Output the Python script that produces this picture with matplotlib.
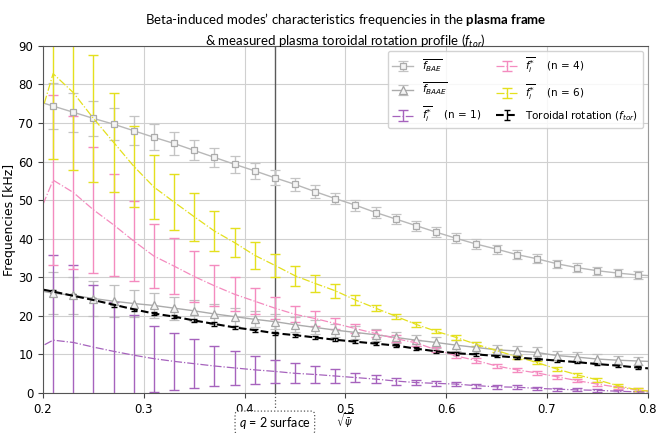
import matplotlib
matplotlib.use("Agg")
import matplotlib.pyplot as plt
from matplotlib.transforms import blended_transform_factory

# Radial coordinate sqrt(psi_bar) of each sample
sqrt_psi = [0.19, 0.21, 0.23, 0.25, 0.27, 0.29, 0.31, 0.33, 0.35, 0.37, 0.39,
            0.41, 0.43, 0.45, 0.47, 0.49, 0.51, 0.53, 0.55, 0.57, 0.59, 0.61,
            0.63, 0.65, 0.67, 0.69, 0.71, 0.73, 0.75, 0.77, 0.79, 0.81]

# BAE frequency [kHz]
f_bae = [76.0, 74.4, 72.8, 71.2, 69.7, 68.0, 66.3, 64.7, 62.9, 61.1, 59.3,
         57.6, 55.8, 54.1, 52.2, 50.4, 48.7, 46.8, 45.1, 43.4, 41.7, 40.1,
         38.6, 37.3, 35.9, 34.8, 33.5, 32.5, 31.7, 31.1, 30.6, 30.3]
f_bae_err = [6.3, 5.9, 5.1, 4.6, 4.1, 3.7, 3.4, 2.9, 2.6, 2.4, 2.2,
             2.1, 1.95, 1.75, 1.65, 1.5, 1.45, 1.4, 1.35, 1.3, 1.3, 1.3,
             1.25, 1.2, 1.2, 1.15, 1.1, 1.1, 1.05, 1.0, 0.95, 0.9]

# BAAE frequency [kHz]
f_baae = [26.8, 25.9, 25.3, 24.5, 23.8, 23.2, 22.7, 22.0, 21.3, 20.5, 19.8,
          19.1, 18.5, 17.7, 17.0, 16.3, 15.7, 15.1, 14.4, 13.7, 13.1, 12.4,
          11.8, 11.2, 10.9, 10.5, 9.7, 9.3, 8.8, 8.5, 8.3, 8.1]
f_baae_err = [6.0, 5.5, 4.9, 4.5, 4.2, 3.6, 3.3, 3.0, 2.7, 2.5, 2.3,
              2.1, 2.0, 1.9, 1.8, 1.7, 1.6, 1.55, 1.5, 1.45, 1.4, 1.4,
              1.35, 1.35, 1.3, 1.3, 1.25, 1.2, 1.2, 1.15, 1.1, 1.1]

# Ion diamagnetic-type frequency f_i* for n = 1, 4, 6 [kHz]
f_i_n1 = [10.9, 13.7, 13.1, 11.9, 10.8, 9.8, 8.9, 8.2, 7.6, 7.0, 6.5,
          6.0, 5.6, 5.1, 4.8, 4.4, 4.0, 3.6, 3.1, 2.7, 2.5, 2.3,
          1.9, 1.6, 1.5, 1.2, 1.0, 0.8, 0.7, 0.45, 0.3, 0.2]
f_i_n1_err = [24.0, 22.2, 20.1, 16.2, 12.8, 10.5, 8.6, 7.3, 6.3, 5.3, 4.35,
              3.6, 3.0, 2.55, 2.3, 1.7, 1.2, 1.1, 0.9, 0.7, 0.6, 0.55,
              0.5, 0.5, 0.45, 0.45, 0.4, 0.4, 0.4, 0.35, 0.3, 0.3]

f_i_n4 = [42.6, 55.2, 52.0, 47.5, 43.6, 39.4, 35.5, 32.9, 30.2, 27.8, 25.6,
          23.8, 22.0, 20.4, 19.3, 18.0, 16.7, 15.4, 14.1, 13.0, 11.2, 9.6,
          8.4, 7.0, 6.0, 5.2, 4.2, 3.2, 2.3, 1.5, 0.8, 0.3]
f_i_n4_err = [24.0, 22.0, 19.9, 16.4, 13.2, 10.4, 8.4, 7.3, 6.5, 5.3, 4.35,
              3.4, 2.8, 2.1, 1.9, 1.4, 1.1, 1.0, 0.9, 0.8, 0.7, 0.65,
              0.6, 0.55, 0.5, 0.5, 0.5, 0.45, 0.45, 0.4, 0.4, 0.4]

f_i_n6 = [65.2, 82.8, 77.9, 71.2, 65.0, 58.8, 53.4, 49.5, 45.7, 42.0, 39.0,
          35.7, 33.1, 30.4, 28.4, 26.5, 24.1, 22.0, 19.9, 17.8, 16.0, 14.4,
          12.6, 11.0, 9.4, 7.9, 6.2, 4.7, 3.4, 1.9, 0.8, 0.2]
f_i_n6_err = [24.0, 22.2, 20.1, 16.4, 12.9, 10.5, 8.4, 7.2, 6.2, 5.2, 3.8,
              3.5, 3.0, 2.6, 2.2, 1.8, 1.35, 0.85, 0.7, 0.6, 0.55, 0.55,
              0.5, 0.5, 0.5, 0.5, 0.5, 0.45, 0.45, 0.4, 0.4, 0.4]

# Measured toroidal rotation frequency f_tor [kHz]
f_tor = [27.3, 26.3, 25.2, 24.1, 22.9, 21.7, 20.6, 19.8, 18.8, 17.9, 17.0,
         16.3, 15.5, 15.0, 14.4, 13.8, 13.3, 12.8, 12.3, 11.5, 10.8, 10.3,
         10.0, 9.6, 9.2, 8.8, 8.4, 8.0, 7.5, 7.1, 6.6, 6.2]
f_tor_err = [0.5, 0.5, 0.5, 0.5, 0.5, 0.5, 0.5, 0.45, 0.45, 0.45, 0.45,
             0.4, 0.4, 0.4, 0.4, 0.4, 0.4, 0.35, 0.35, 0.35, 0.35, 0.35,
             0.3, 0.3, 0.3, 0.3, 0.3, 0.3, 0.3, 0.3, 0.3, 0.3]

q2_position = 0.43

x_ticks = [0.2, 0.3, 0.4, 0.5, 0.6, 0.7, 0.8]
y_ticks = [0, 10, 20, 30, 40, 50, 60, 70, 80, 90]

title_line1 = ("Beta-induced modes\u2019 characteristics frequencies in the "
               r"$\mathbf{plasma\ frame}$")
title_line2 = r"& measured plasma toroidal rotation profile ($f_{tor}$)"

plt.rcParams["font.family"] = "DejaVu Sans"
plt.rcParams["mathtext.rm"] = "Lato"
plt.rcParams["mathtext.it"] = "Lato:italic"
plt.rcParams["mathtext.bf"] = "Lato:bold"

fig = plt.figure(figsize=(6.57, 4.33), dpi=100)
ax = fig.add_axes([0.0655, 0.0924, 0.9205, 0.8016])

ax.errorbar(sqrt_psi, f_bae, yerr=f_bae_err, fmt="-", marker="s", ms=4.8,
            lw=1.0, elinewidth=1.0, capsize=3.5, mew=0.9,
            color="#b8b8b8", ecolor="#c4c4c4", mfc="#f4f4f4", mec="#ababab",
            label=r"$\overline{f_{BAE}}$")
ax.errorbar(sqrt_psi, f_baae, yerr=f_baae_err, fmt="-", marker="^", ms=5.3,
            lw=1.0, elinewidth=1.0, capsize=3.5, mew=0.9,
            color="#ababab", ecolor="#c0c0c0", mfc="#f4f4f4", mec="#a4a4a4",
            label=r"$\overline{f_{BAAE}}$")
ax.errorbar(sqrt_psi, f_i_n1, yerr=f_i_n1_err, fmt="-.", lw=0.9,
            color="#a663bd", elinewidth=1.0, capsize=3.5,
            label=r"$\overline{f_i^{*}}$    (n = 1)")
ax.errorbar(sqrt_psi, f_i_n4, yerr=f_i_n4_err, fmt="-.", lw=0.9,
            color="#f48bbf", elinewidth=1.0, capsize=3.5,
            label=r"$\overline{f_i^{*}}$    (n = 4)")
ax.errorbar(sqrt_psi, f_i_n6, yerr=f_i_n6_err, fmt="-.", lw=0.9,
            color="#e4e01e", elinewidth=1.0, capsize=3.5,
            label=r"$\overline{f_i^{*}}$    (n = 6)")
ax.errorbar(sqrt_psi, f_tor, yerr=f_tor_err, fmt="--", lw=1.5,
            color="black", elinewidth=1.0, capsize=2,
            label=r"Toroidal rotation ($f_{tor}$)")

# q = 2 rational surface
ax.axvline(q2_position, color="#5a5a5a", lw=1.0, zorder=1)
trans = blended_transform_factory(ax.transData, ax.transAxes)
ax.plot([q2_position, q2_position], [0.0, -0.045], transform=trans,
        color="#555555", lw=0.9, ls=":", clip_on=False)
ax.text(q2_position, -0.086, r"$q$ = 2 surface", transform=trans,
        ha="center", va="center", fontsize=9, family="Lato",
        math_fontfamily="custom",
        bbox=dict(boxstyle="round,pad=0.3", fc="white", ec="#555555",
                  ls=":", lw=0.9))

ax.set_xlim(0.2, 0.8)
ax.set_ylim(0, 90)
ax.set_xticks(x_ticks)
ax.set_yticks(y_ticks)
ax.tick_params(labelsize=8.5, length=3.5, width=0.8, color="#444444")
ax.grid(True, color="#d0d0d0", lw=0.8)
ax.set_axisbelow(True)
for side, spine in ax.spines.items():
    spine.set_color("#555555" if side in ("left", "bottom", "top") else "#999999")
    spine.set_linewidth(0.8)

ax.set_ylabel("Frequencies [kHz]", fontsize=9, labelpad=2)
ax.set_xlabel(r"$\sqrt{\bar{\psi}}$", fontsize=7)
ax.xaxis.set_label_coords(0.5, -0.053)

ax.legend(loc="upper right", ncol=2, fontsize=7.5, framealpha=0.85,
          edgecolor="#cccccc", columnspacing=1.5, handlelength=2.0,
          labelspacing=0.7)

# Two-line heading centred over the axes
title_x = 0.0655 + 0.9205 / 2
fig.text(title_x, 1 - 20 / 433, title_line1, ha="center", va="center",
         fontsize=9.5, family="Lato", math_fontfamily="custom")
fig.text(title_x, 1 - 41 / 433, title_line2, ha="center", va="center",
         fontsize=9.5, family="Lato", math_fontfamily="custom")

fig.savefig("out.png", dpi=100)
